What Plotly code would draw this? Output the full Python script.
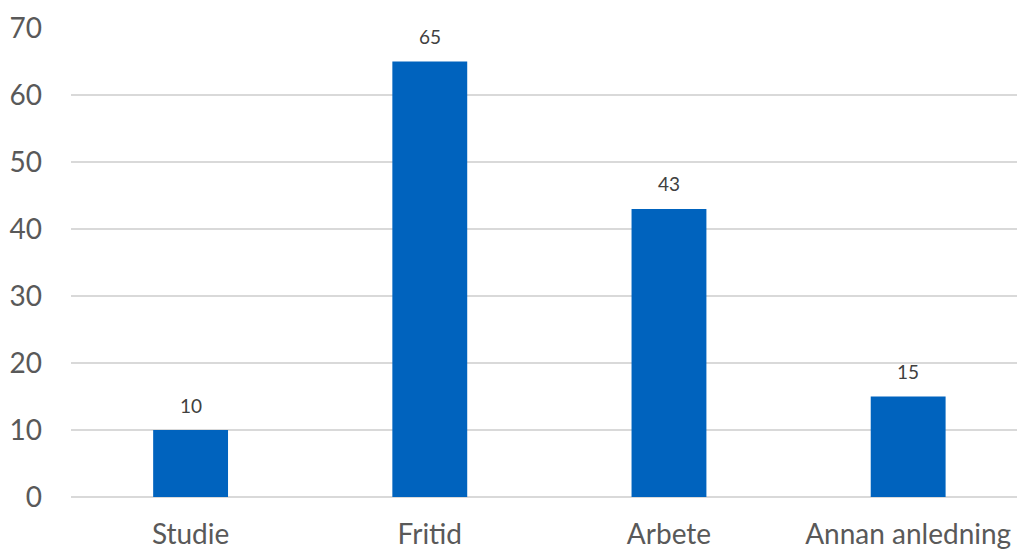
import plotly.graph_objects as go

categories = ["Studie", "Fritid", "Arbete", "Annan anledning"]
values = [10, 65, 43, 15]
y_ticks = [0, 10, 20, 30, 40, 50, 60, 70]

bar_color = "#0063BE"
grid_color = "#D9D9D9"
text_color = "#595959"
font_family = "Lato, 'Open Sans', sans-serif"

fig = go.Figure()
fig.add_trace(go.Bar(
    x=list(range(len(categories))),
    y=values,
    width=0.313,
    marker=dict(color=bar_color, line=dict(width=0)),
    hoverinfo="skip",
))

for i, v in enumerate(values):
    fig.add_annotation(
        x=i, y=v, text=str(v), showarrow=False,
        yshift=25, font=dict(family=font_family, size=19, color="#404040"),
    )

fig.update_layout(
    width=1017, height=551,
    margin=dict(l=71, r=0, t=28, b=54, autoexpand=False),
    paper_bgcolor="white", plot_bgcolor="white",
    showlegend=False,
    font=dict(family=font_family, color=text_color),
    xaxis=dict(
        range=[-0.5, 3.455],
        tickmode="array",
        tickvals=list(range(len(categories))),
        ticktext=categories,
        showgrid=False, zeroline=False, showline=False,
        ticks="", ticklabelstandoff=18, automargin=False,
        tickfont=dict(size=28, color=text_color, family=font_family),
    ),
    yaxis=dict(
        range=[0, 70],
        tickmode="array", tickvals=y_ticks,
        showgrid=True, gridcolor=grid_color, gridwidth=1.5,
        zeroline=True, zerolinecolor=grid_color, zerolinewidth=1.5,
        showline=False, ticks="", ticklabelstandoff=28, automargin=False,
        tickfont=dict(size=28, color=text_color, family=font_family),
    ),
)

fig.write_html(
    "out.html",
    config={"displayModeBar": False, "responsive": False},
    post_script="document.body.style.margin='0';document.body.style.overflow='hidden';",
)
